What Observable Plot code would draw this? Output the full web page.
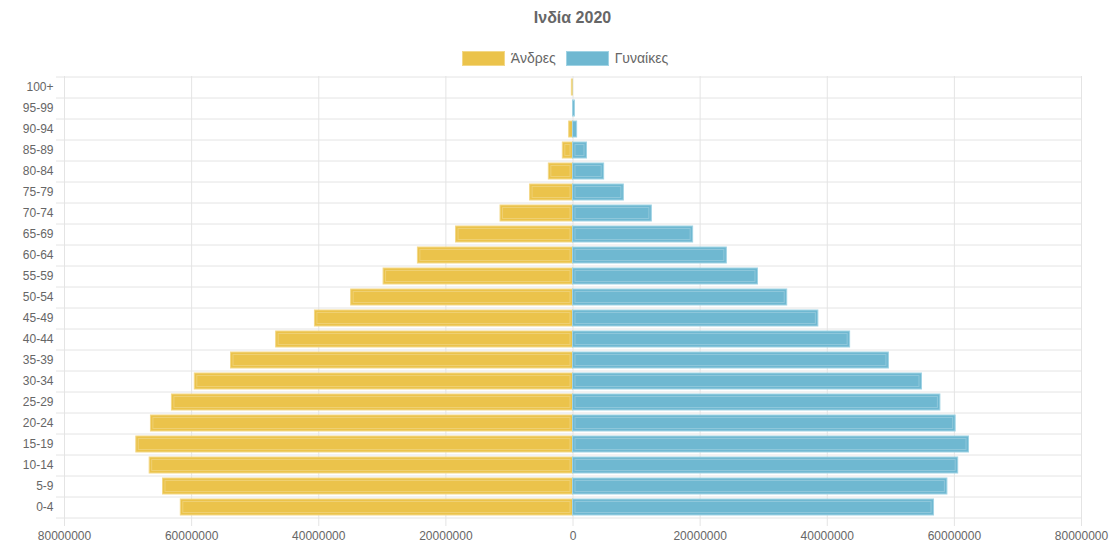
<!DOCTYPE html>
<html>
<head>
<meta charset="utf-8">
<script src="https://cdn.jsdelivr.net/npm/d3@7"></script>
<script src="https://cdn.jsdelivr.net/npm/@observablehq/plot@0.6"></script>
<style>
  html, body { margin: 0; padding: 0; background: #fff; }
  body { font-family: "Liberation Sans", Arial, sans-serif; color: #666; width: 1113px; }
  #title { height: 36px; line-height: 36px; margin-left: 64px; width: 1017px; text-align: center; font-weight: bold; font-size: 16px; color: #666; }
  #legend { height: 34px; padding-top: 10px; box-sizing: border-box; margin-left: 64px; width: 1002px; display: flex; justify-content: center; align-items: center; font-size: 14px; color: #666; }
  .item { display: flex; align-items: center; margin: 0 5px; }
  .sw { width: 41px; height: 13px; margin-right: 6px; border: 1px solid; }
</style>
</head>
<body>
<div id="title"></div>
<div id="legend"></div>
<div id="chart"></div>
<script>
const titleText = "Ινδία 2020";
const sexes = ["Άνδρες", "Γυναίκες"];
const fillColors = ["#EBC34B", "#6FB8D1"];
const strokeColors = ["#F3D888", "#A0D3E4"];

const ages = ["100+","95-99","90-94","85-89","80-84","75-79","70-74","65-69","60-64","55-59","50-54","45-49","40-44","35-39","30-34","25-29","20-24","15-19","10-14","5-9","0-4"];
const males = [180000, 60000, 600000, 1600000, 3800000, 6750000, 11400000, 18400000, 24400000, 29800000, 34900000, 40600000, 46700000, 53800000, 59500000, 63100000, 66400000, 68700000, 66600000, 64500000, 61700000];
const females = [20000, 300000, 650000, 2200000, 4900000, 8000000, 12400000, 18900000, 24200000, 29100000, 33700000, 38600000, 43600000, 49700000, 54900000, 57800000, 60200000, 62300000, 60600000, 58900000, 56800000];
const xTicks = [-80000000, -60000000, -40000000, -20000000, 0, 20000000, 40000000, 60000000, 80000000];

document.getElementById("title").textContent = titleText;
const legend = document.getElementById("legend");
sexes.forEach((s, i) => {
  const it = document.createElement("div");
  it.className = "item";
  const sw = document.createElement("div");
  sw.className = "sw";
  sw.style.background = fillColors[i];
  sw.style.borderColor = strokeColors[i];
  const tx = document.createElement("span");
  tx.textContent = s;
  it.appendChild(sw); it.appendChild(tx);
  legend.appendChild(it);
});

const data = ages.flatMap((a, i) => [
  {age: a, sex: sexes[0], value: -males[i]},
  {age: a, sex: sexes[1], value: females[i]}
]);

const W = 1113, H = 483, mT = 6, mB = 36, mL = 64, mR = 32;
const step = (H - mT - mB) / ages.length;
const gridColor = "#e4e4e4";
const strokeOf = d => strokeColors[sexes.indexOf(d.sex)];

const chart = Plot.plot({
  width: W, height: H,
  marginTop: mT, marginBottom: mB, marginLeft: mL, marginRight: mR,
  style: {fontFamily: "'Liberation Sans', Arial, sans-serif", fontSize: "12px", color: "#666", background: "#fff"},
  x: {domain: [xTicks[0], xTicks[xTicks.length - 1]]},
  y: {type: "band", domain: ages, paddingInner: 0.24, paddingOuter: 0.12},
  color: {domain: sexes, range: fillColors},
  marks: [
    Plot.ruleX(xTicks, {stroke: gridColor, insetBottom: -9}),
    Plot.ruleY(ages, {y: d => d, dy: -step / 2, stroke: gridColor, insetLeft: -8}),
    Plot.ruleY([ages[ages.length - 1]], {y: d => d, dy: step / 2, stroke: gridColor, insetLeft: -8}),
    Plot.barX(data, {x1: d => 0, x2: "value", y: "age", fill: "sex", stroke: d => Math.abs(d.value) > 100000 ? strokeOf(d) : "none", strokeWidth: 1}),
    Plot.barX(data.filter(d => Math.abs(d.value) > 1500000), {x1: d => 0, x2: "value", y: "age", fill: "none", stroke: "white", strokeOpacity: 0.22, strokeWidth: 1, inset: 2.5}),
    Plot.axisY({tickSize: 0, tickPadding: 11, label: null}),
    Plot.axisX({ticks: xTicks, tickSize: 0, tickPadding: 14, label: null, tickFormat: d => String(Math.abs(d))})
  ]
});
document.getElementById("chart").appendChild(chart);
</script>
</body>
</html>
